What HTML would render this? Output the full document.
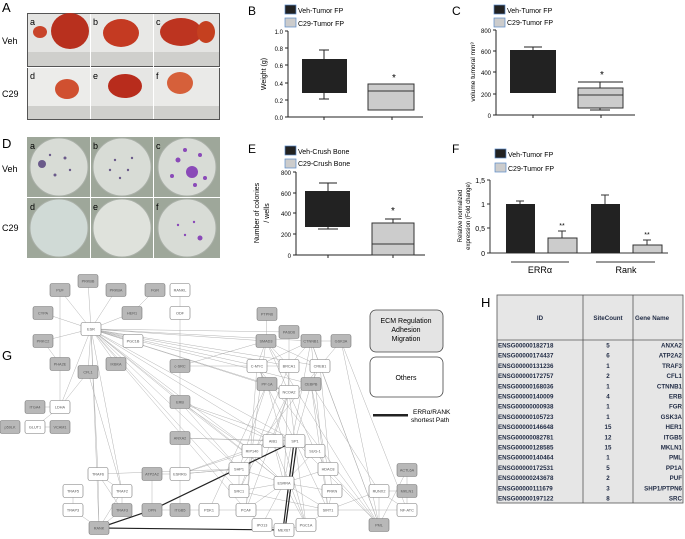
<!DOCTYPE html>
<html><head><meta charset="utf-8"><style>
body{margin:0;background:#fff;}
svg{display:block;font-family:"Liberation Sans",sans-serif;}
</style></head><body>
<svg id="s" width="685" height="539" viewBox="0 0 685 539" xmlns="http://www.w3.org/2000/svg">
<rect width="685" height="539" fill="#fff"/>
<!-- Panel A -->
<text x="2" y="12" font-size="13">A</text>
<rect x="27" y="13" width="193" height="107" fill="#555"/>
<g>
<rect x="28" y="14" width="62" height="52" fill="#e4e4e2"/>
<rect x="91" y="14" width="62" height="52" fill="#e8e8e6"/>
<rect x="154" y="14" width="65" height="52" fill="#e4e4e2"/>
<rect x="28" y="68" width="62" height="51" fill="#ececea"/>
<rect x="91" y="68" width="62" height="51" fill="#e6e6e4"/>
<rect x="154" y="68" width="65" height="51" fill="#eaeae8"/>
<rect x="28" y="52" width="62" height="14" fill="#cfcfcc"/><rect x="91" y="52" width="62" height="14" fill="#cfcfcc"/><rect x="154" y="52" width="65" height="14" fill="#cfcfcc"/>
<rect x="28" y="106" width="62" height="13" fill="#cfcfcc"/><rect x="91" y="106" width="62" height="13" fill="#cfcfcc"/><rect x="154" y="106" width="65" height="13" fill="#cfcfcc"/>
<ellipse cx="40" cy="32" rx="7" ry="6" fill="#c8442a"/>
<ellipse cx="70" cy="31" rx="19" ry="18" fill="#b8301e"/>
<ellipse cx="121" cy="33" rx="18" ry="14" fill="#c43a22"/>
<ellipse cx="181" cy="32" rx="21" ry="14" fill="#bd3420"/>
<ellipse cx="206" cy="32" rx="9" ry="11" fill="#c5401f"/>
<ellipse cx="67" cy="89" rx="12" ry="10" fill="#d05030"/>
<ellipse cx="125" cy="86" rx="17" ry="12" fill="#b82c1c"/>
<ellipse cx="180" cy="83" rx="13" ry="11" fill="#d6603a"/>
</g>
<text x="30" y="25" font-size="9">a</text><text x="93" y="25" font-size="9">b</text><text x="156" y="25" font-size="9">c</text>
<text x="30" y="79" font-size="9">d</text><text x="93" y="79" font-size="9">e</text><text x="156" y="79" font-size="9">f</text>
<text x="2" y="44" font-size="9">Veh</text><text x="2" y="97" font-size="9">C29</text>
<!-- Panel D -->
<text x="2" y="148" font-size="13">D</text>
<rect x="27" y="137" width="193" height="121" fill="#9ea79a"/>
<g fill="#d8dcd6" stroke="#aab0a8" stroke-width="1">
<circle cx="59" cy="167" r="29"/><circle cx="122" cy="167" r="29"/><circle cx="187" cy="167" r="29"/>
<circle cx="59" cy="228" r="29" fill="#d0dad6"/><circle cx="122" cy="228" r="29" fill="#dfe2dc"/><circle cx="187" cy="228" r="29"/>
</g>
<g fill="#6a5a8a">
<circle cx="42" cy="164" r="4"/><circle cx="55" cy="175" r="1.5"/><circle cx="65" cy="158" r="1.5"/><circle cx="70" cy="170" r="1.2"/><circle cx="50" cy="155" r="1.2"/>
<circle cx="115" cy="160" r="1.2"/><circle cx="128" cy="170" r="1.2"/><circle cx="120" cy="178" r="1.2"/><circle cx="132" cy="158" r="1.2"/><circle cx="110" cy="170" r="1.2"/>
</g>
<g fill="#8a4ab8">
<circle cx="192" cy="172" r="6"/><circle cx="178" cy="160" r="2.5"/><circle cx="200" cy="155" r="2"/><circle cx="172" cy="176" r="2"/><circle cx="185" cy="150" r="2"/><circle cx="205" cy="178" r="2"/><circle cx="195" cy="185" r="2"/>
<circle cx="200" cy="238" r="2.5"/><circle cx="185" cy="235" r="1.2"/><circle cx="178" cy="225" r="1.2"/><circle cx="194" cy="222" r="1.2"/>
</g>
<rect x="90" y="137" width="1" height="121" fill="#fff"/><rect x="153" y="137" width="1" height="121" fill="#fff"/><rect x="27" y="197" width="193" height="1" fill="#fff"/>
<rect x="90" y="14" width="1" height="105" fill="#fff"/><rect x="153" y="14" width="1" height="105" fill="#fff"/><rect x="27" y="67" width="193" height="1" fill="#fff"/>
<text x="30" y="149" font-size="9">a</text><text x="93" y="149" font-size="9">b</text><text x="156" y="149" font-size="9">c</text>
<text x="30" y="210" font-size="9">d</text><text x="93" y="210" font-size="9">e</text><text x="156" y="210" font-size="9">f</text>
<text x="2" y="172" font-size="9">Veh</text><text x="2" y="231" font-size="9">C29</text>

<!-- Panel B -->
<g font-size="7">
<text x="248" y="15" font-size="12">B</text>
<rect x="285" y="5" width="11" height="9" fill="#222" stroke="#5a8ac8" stroke-width=".7"/><text x="298" y="13">Veh-Tumor FP</text>
<rect x="285" y="18" width="11" height="9" fill="#ccc" stroke="#5a8ac8" stroke-width=".7"/><text x="298" y="26">C29-Tumor FP</text>
<g stroke="#222" stroke-width="1" fill="none">
<path d="M288 31V117H423M285 31H288M285 48H288M285 65H288M285 83H288M285 100H288M285 117H288M324 117v3M392 117v3"/>
<path d="M324 50V59M319 50H329M324 93V99M319 99H329M392 84V84M368 110H414"/>
</g>
<rect x="302" y="59" width="45" height="34" fill="#222"/>
<rect x="368" y="84" width="46" height="26" fill="#ccc" stroke="#333"/><path d="M368 91H414" stroke="#333"/>
<text x="283" y="34" font-size="6" text-anchor="end">1.0</text><text x="283" y="51" font-size="6" text-anchor="end">0.8</text><text x="283" y="68" font-size="6" text-anchor="end">0.6</text><text x="283" y="86" font-size="6" text-anchor="end">0.4</text><text x="283" y="103" font-size="6" text-anchor="end">0.2</text><text x="283" y="120" font-size="6" text-anchor="end">0.0</text>
<text transform="translate(266,74) rotate(-90)" text-anchor="middle">Weight (g)</text>
<text x="394" y="81" font-size="10" text-anchor="middle">*</text>
</g>
<!-- Panel C -->
<g font-size="7">
<text x="452" y="15" font-size="12">C</text>
<rect x="494" y="5" width="11" height="9" fill="#222" stroke="#5a8ac8" stroke-width=".7"/><text x="507" y="13">Veh-Tumor FP</text>
<rect x="494" y="18" width="11" height="9" fill="#ccc" stroke="#5a8ac8" stroke-width=".7"/><text x="507" y="25">C29-Tumor FP</text>
<g stroke="#222" fill="none">
<path d="M496 30V115H635M493 30H496M493 51H496M493 72H496M493 94H496M493 115H496M533 115v3M601 115v3"/>
<path d="M533 47V50M524 47H542M578 82H623M600 82V88M600 108V110M590 110H610"/>
</g>
<rect x="510" y="50" width="46" height="43" fill="#222"/>
<rect x="578" y="88" width="45" height="20" fill="#ccc" stroke="#333"/><path d="M578 95H623" stroke="#333"/>
<text x="491" y="33" font-size="6" text-anchor="end">800</text><text x="491" y="54" font-size="6" text-anchor="end">600</text><text x="491" y="75" font-size="6" text-anchor="end">400</text><text x="491" y="97" font-size="6" text-anchor="end">200</text><text x="491" y="118" font-size="6" text-anchor="end">0</text>
<text transform="translate(475,72) rotate(-90)" text-anchor="middle" font-size="6.5">volume tumoral mm³</text>
<text x="602" y="78" font-size="10" text-anchor="middle">*</text>
</g>
<!-- Panel E -->
<g font-size="7">
<text x="248" y="153" font-size="12">E</text>
<rect x="285" y="146" width="11" height="9" fill="#222" stroke="#5a8ac8" stroke-width=".7"/><text x="298" y="154">Veh-Crush Bone</text>
<rect x="285" y="159" width="11" height="9" fill="#ccc" stroke="#5a8ac8" stroke-width=".7"/><text x="298" y="166">C29-Crush Bone</text>
<g stroke="#222" fill="none">
<path d="M296 172V255H425M293 172H296M293 193H296M293 213H296M293 234H296M293 255H296M328 255v3M393 255v3"/>
<path d="M328 183V191M319 183H337M328 227V229M318 229H338M393 219V223M385 219H401"/>
</g>
<rect x="305" y="191" width="45" height="36" fill="#222"/>
<rect x="372" y="223" width="42" height="32" fill="#ccc" stroke="#333"/><path d="M372 244H414" stroke="#333"/>
<text x="291" y="175" font-size="6" text-anchor="end">800</text><text x="291" y="196" font-size="6" text-anchor="end">600</text><text x="291" y="216" font-size="6" text-anchor="end">400</text><text x="291" y="237" font-size="6" text-anchor="end">200</text><text x="291" y="258" font-size="6" text-anchor="end">0</text>
<text transform="translate(259,213) rotate(-90)" text-anchor="middle">Number of colonies</text>
<text transform="translate(269,213) rotate(-90)" text-anchor="middle">/ wells</text>
<text x="393" y="214" font-size="10" text-anchor="middle">*</text>
</g>
<!-- Panel F -->
<g font-size="7">
<text x="452" y="153" font-size="12">F</text>
<rect x="495" y="149" width="11" height="9" fill="#222" stroke="#5a8ac8" stroke-width=".7"/><text x="508" y="157">Veh-Tumor FP</text>
<rect x="495" y="163" width="11" height="9" fill="#ccc" stroke="#5a8ac8" stroke-width=".7"/><text x="508" y="171">C29-Tumor FP</text>
<g stroke="#333" fill="none">
<path d="M490 180V253H668M487 180H490M487 204H490M487 228H490M487 253H490"/>
<path d="M520 201V204M516 201H524M562 231V238M558 231H566M605 195V204M601 195H609M647 240V245M643 240H651"/>
<path d="M511 262H569M596 262H655"/>
</g>
<rect x="506" y="204" width="29" height="49" fill="#222"/>
<rect x="548" y="238" width="29" height="15" fill="#ccc" stroke="#333"/>
<rect x="591" y="204" width="29" height="49" fill="#222"/>
<rect x="633" y="245" width="29" height="8" fill="#ccc" stroke="#333"/>
<text x="485" y="183" text-anchor="end">1,5</text><text x="485" y="207" text-anchor="end">1</text><text x="485" y="231" text-anchor="end">0,5</text><text x="485" y="256" text-anchor="end">0</text>
<text transform="translate(462,216) rotate(-90)" text-anchor="middle" font-size="6">Relative normalized</text>
<text transform="translate(470,216) rotate(-90)" text-anchor="middle" font-size="6">expression (Fold change)</text>
<text x="562" y="228" text-anchor="middle">**</text><text x="647" y="237" text-anchor="middle">**</text>
<text x="540" y="273" font-size="9" text-anchor="middle">ERRα</text><text x="626" y="273" font-size="9" text-anchor="middle">Rank</text>
</g>
<!-- Panel G -->
<text x="2" y="360" font-size="13">G</text>
<g id="edges" stroke="#aaa" stroke-width=".45" fill="none"></g>
<g id="thick" stroke="#222" stroke-width="1.2" fill="none">
<path d="M99 528L152 510L295 441M99 528L284 530M294 442L283 530M297 442L285 530"/>
</g>
<g id="nodes" font-size="3.8" text-anchor="middle"></g>
<!-- legend -->
<rect x="370" y="310" width="73" height="42" rx="6" fill="#e4e4e4" stroke="#444" stroke-width=".8"/>
<text x="406" y="323" font-size="7" text-anchor="middle">ECM Regulation</text>
<text x="406" y="332" font-size="7" text-anchor="middle">Adhesion</text>
<text x="406" y="341" font-size="7" text-anchor="middle">Migration</text>
<rect x="370" y="357" width="73" height="40" rx="6" fill="#fff" stroke="#444" stroke-width=".8"/>
<text x="406" y="380" font-size="7" text-anchor="middle">Others</text>
<rect x="373" y="414" width="35" height="2.5" fill="#222"/>
<text x="413" y="414" font-size="6.5">ERRα/RANK</text>
<text x="411" y="422" font-size="6.5">shortest Path</text>
<!-- Panel H -->
<text x="481" y="307" font-size="13">H</text>
<g font-size="6.2" font-weight="bold" fill="#1f2a44">
<rect x="497" y="295" width="186" height="208" fill="#e6e6e6" stroke="#555" stroke-width=".8"/>
<path d="M583 295V503M633 295V503M497 340H683" stroke="#555" stroke-width=".8"/>
<text x="540" y="320" text-anchor="middle">ID</text><text x="608" y="320" text-anchor="middle">SiteCount</text><text x="635" y="320">Gene Name</text>
<g id="rows"></g>
</g>
</svg>
<script>
var N={PUF:[60,290,1],PRKBB:[88,281,1],PRKBA:[116,290,1],FGR:[155,290,1],RANKL:[180,290,0],CYPA:[43,313,1],HER1:[132,313,1],ODF:[180,313,0],ESR:[91,329,0],PGC1B:[133,341,0],PRKC2:[43,341,1],PHA2E:[60,364,1],CFL1:[88,372,1],IKBKA:[116,364,1],"c-SRC":[180,366,1],ERB:[180,402,1],ITGA4:[35,407,1],LDHA:[60,407,0],p59LK:[10,427,1],GLUT1:[35,427,0],VCAM1:[60,427,1],ANXA2:[180,438,1],PTPN6:[267,314,1],PASD6:[289,332,1],SMAD3:[266,341,1],CTNNB1:[311,341,1],GSK3A:[341,341,1],"C-MYC":[257,366,0],BRCA1:[289,366,0],CREB1:[320,366,0],"PP-1A":[267,384,1],CEBPB:[311,384,1],NCOA2:[289,392,0],AIB1:[273,441,0],SP1:[295,441,0],RIP140:[252,451,0],"SUG-1":[315,451,0],TRAF6:[98,474,0],ATP2A2:[152,474,1],ESRRG:[180,474,0],SHP1:[239,469,0],HDAC8:[328,469,0],ESRRA:[284,483,0],TRAF5:[73,491,0],TRAF2:[122,491,0],SRC1:[239,491,0],PRKN:[332,491,0],RUNX2:[379,491,0],ACTL6A:[407,470,1],MKLN1:[407,491,1],TRAP3:[73,510,0],TRAF3:[122,510,1],OPN:[152,510,1],ITGB5:[180,510,1],PDK1:[209,510,0],PCAF:[246,510,0],SIRT1:[328,510,0],"NF-ATC":[407,510,0],RANK:[99,528,1],IPO13:[262,525,0],MEX67:[284,530,0],PGC1A:[306,525,0],PML:[379,525,1]};
var E="ESR PUF,ESR PRKBB,ESR PRKBA,ESR HER1,ESR CYPA,ESR PRKC2,ESR PGC1B,ESR IKBKA,ESR CFL1,ESR LDHA,ESR SMAD3,ESR PASD6,ESR CTNNB1,ESR C-MYC,ESR BRCA1,ESR CREB1,ESR PP-1A,ESR NCOA2,ESR AIB1,ESR SP1,ESR ESRRA,ESR RIP140,ESR SHP1,ESR RANK,ESR TRAF2,ESR ERB,ESR CEBPB,ESR SRC1,ESR PCAF,FGR HER1,RANKL ODF,ODF c-SRC,c-SRC ERB,ERB ANXA2,ANXA2 ESRRG,ESRRG ITGB5,PUF PHA2E,PHA2E LDHA,CFL1 LDHA,ITGA4 LDHA,LDHA GLUT1,GLUT1 VCAM1,PRKC2 PHA2E,SMAD3 C-MYC,SMAD3 BRCA1,SMAD3 CREB1,CTNNB1 C-MYC,CTNNB1 BRCA1,CTNNB1 CREB1,GSK3A CTNNB1,GSK3A CREB1,PASD6 BRCA1,PTPN6 SMAD3,C-MYC PP-1A,BRCA1 NCOA2,CREB1 CEBPB,PP-1A NCOA2,NCOA2 CEBPB,NCOA2 AIB1,NCOA2 SP1,CEBPB SP1,CEBPB HDAC8,CEBPB SIRT1,C-MYC SP1,BRCA1 ESRRA,CREB1 PRKN,SMAD3 RIP140,CTNNB1 ESRRA,PP-1A SHP1,SMAD3 PML,CTNNB1 PML,CREB1 PML,GSK3A PML,CEBPB RUNX2,ERB SP1,ERB AIB1,ERB ESRRA,ERB SHP1,c-SRC SMAD3,c-SRC BRCA1,ANXA2 AIB1,ANXA2 SP1,TRAF6 RANK,TRAF6 TRAF2,TRAF5 TRAP3,TRAF2 TRAF3,TRAF3 RANK,TRAF6 TRAF3,TRAP3 RANK,TRAF2 RANK,ATP2A2 OPN,OPN ITGB5,ITGB5 PDK1,PDK1 PCAF,PCAF SIRT1,SIRT1 NF-ATC,RUNX2 NF-ATC,RUNX2 MKLN1,ACTL6A MKLN1,MKLN1 NF-ATC,RUNX2 PML,SHP1 ESRRA,SHP1 ESRRG,SHP1 SRC1,SRC1 ESRRA,ESRRA PCAF,ESRRA PGC1A,ESRRA IPO13,ESRRA SIRT1,ESRRA HDAC8,ESRRA PRKN,AIB1 ESRRA,RIP140 ESRRA,SUG-1 ESRRA,SP1 SIRT1,SP1 PGC1A,SUG-1 HDAC8,PGC1A SIRT1,IPO13 MEX67,MEX67 PGC1A,PCAF IPO13,ESRRG SHP1,TRAF6 SHP1,ATP2A2 ESRRG,SRC1 SIRT1,RIP140 PCAF,AIB1 PGC1A,PRKN SIRT1,HDAC8 PML,SP1 PML,PML ACTL6A,SIRT1 RUNX2,C-MYC PCAF,BRCA1 SRC1,CREB1 SHP1,PP-1A PDK1,ESR TRAF6,CFL1 TRAF2,ERB RIP140,ESRRG RIP140,ESRRG AIB1,CTNNB1 SIRT1,SMAD3 SUG-1,PP-1A PGC1A,NCOA2 PCAF,NCOA2 SRC1,C-MYC PML,GSK3A NF-ATC".split(",");
var ns="http://www.w3.org/2000/svg",eg=document.getElementById("edges"),ng=document.getElementById("nodes");
E.forEach(function(e){var p=e.split(" "),a=N[p[0]],b=N[p[1]];if(!a||!b)return;var l=document.createElementNS(ns,"line");l.setAttribute("x1",a[0]);l.setAttribute("y1",a[1]);l.setAttribute("x2",b[0]);l.setAttribute("y2",b[1]);eg.appendChild(l);});
for(var k in N){var n=N[k],r=document.createElementNS(ns,"rect");r.setAttribute("x",n[0]-10);r.setAttribute("y",n[1]-6.5);r.setAttribute("width",20);r.setAttribute("height",13);r.setAttribute("rx",2);r.setAttribute("fill",n[2]?"#b8b8b8":"#fff");r.setAttribute("stroke","#777");r.setAttribute("stroke-width",".6");ng.appendChild(r);var t=document.createElementNS(ns,"text");t.setAttribute("x",n[0]);t.setAttribute("y",n[1]+1.4);t.setAttribute("fill","#555");t.textContent=k;ng.appendChild(t);}
var R=[["ENSG00000182718",5,"ANXA2"],["ENSG00000174437",6,"ATP2A2"],["ENSG00000131236",1,"TRAF3"],["ENSG00000172757",2,"CFL1"],["ENSG00000168036",1,"CTNNB1"],["ENSG00000140009",4,"ERB"],["ENSG00000000938",1,"FGR"],["ENSG00000105723",1,"GSK3A"],["ENSG00000146648",15,"HER1"],["ENSG00000082781",12,"ITGB5"],["ENSG00000128585",15,"MKLN1"],["ENSG00000140464",1,"PML"],["ENSG00000172531",5,"PP1A"],["ENSG00000243678",2,"PUF"],["ENSG00000111679",3,"SHP1/PTPN6"],["ENSG00000197122",8,"SRC"]];
var rg=document.getElementById("rows");
R.forEach(function(r,i){var y=347.5+i*10.2;[[498,r[0],"start"],[608,r[1],"middle"],[682,r[2],"end"]].forEach(function(c){var t=document.createElementNS(ns,"text");t.setAttribute("x",c[0]);t.setAttribute("y",y);t.setAttribute("text-anchor",c[2]);t.textContent=c[1];rg.appendChild(t);});});
</script>
</body></html>
